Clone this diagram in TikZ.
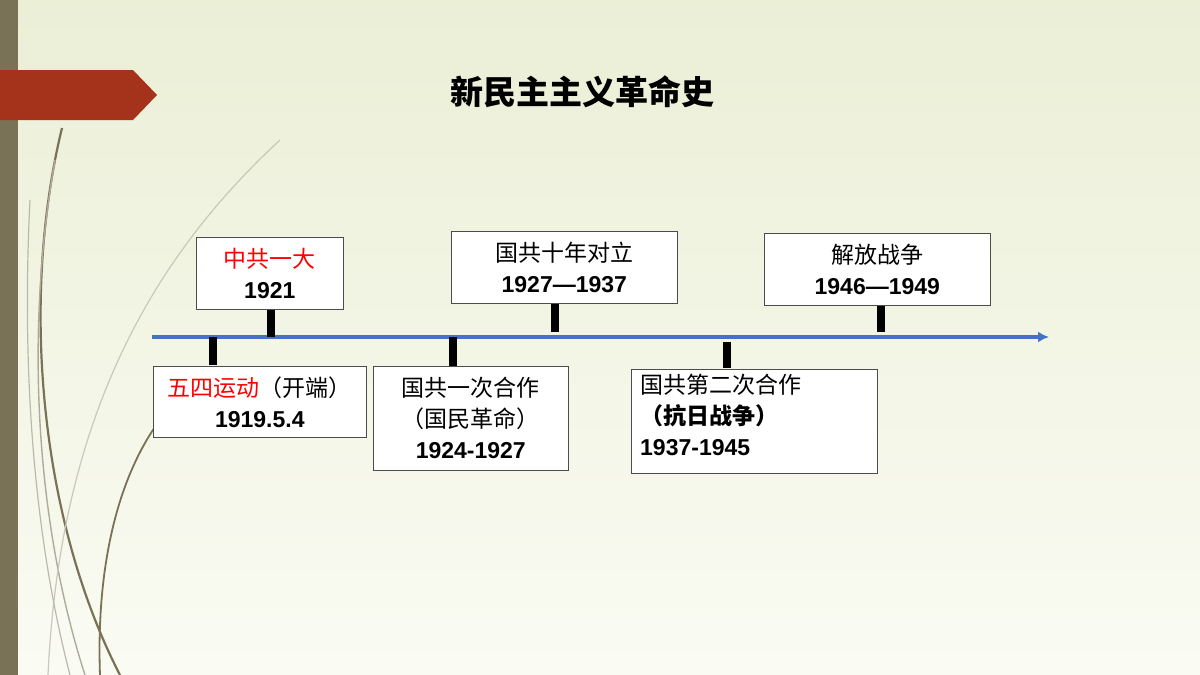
\documentclass[tikz,border=0pt]{standalone}
\usepackage{fontspec}
\setmainfont{Liberation Sans}
\newfontfamily\cjk{Noto Sans CJK SC}
\usetikzlibrary{arrows.meta}
\definecolor{bgtop}{HTML}{EBEFD6}
\definecolor{bgbot}{HTML}{FAFBF3}
\definecolor{olive}{HTML}{7A7257}
\definecolor{tabred}{HTML}{A5321A}
\definecolor{axisblue}{HTML}{4472C4}
\tikzset{
  evbox/.style={draw=black!70, fill=white, line width=0.6pt, inner sep=0pt, anchor=north west},
  evtxt/.style={font=\fontsize{23}{31}\selectfont},
}
\newcommand{\yr}[1]{{\bfseries #1}}
\newcommand{\zh}[1]{{\cjk #1}}
\begin{document}
\begin{tikzpicture}[x=1pt,y=-1pt]
  % background
  \shade[top color=bgtop, bottom color=bgbot] (0,0) rectangle (1200,675);
  \useasboundingbox (0,0) rectangle (1200,675);
  \fill[olive] (0,0) rectangle (18,675);
  \fill[tabred] (0,70) -- (133,70) -- (157,95) -- (133,120) -- (0,120) -- cycle;
  % curves
  \draw[olive, line width=2.2pt] (62,128) .. controls (20,300) and (40,520) .. (120,675);
  \draw[olive!60, line width=1.4pt] (55,160) .. controls (25,330) and (35,520) .. (85,675);
  \draw[olive!40, line width=1.2pt] (280,140) .. controls (150,260) and (60,420) .. (48,675);
  \draw[olive, line width=1.8pt] (200,380) .. controls (130,430) and (95,540) .. (100,675);
  \draw[olive!50, line width=1.2pt] (30,200) .. controls (20,400) and (40,560) .. (70,675);
  % title
  \node (title) at (582,92) {\cjk\bfseries\fontsize{33}{36}\selectfont 新民主主义革命史};
  % axis
  \coordinate (axs) at (152,337);
  \coordinate (axe) at (1049,337);
  \draw[axisblue, line width=3.5pt, -{Latex[length=11pt,width=11pt]}] (axs) -- (axe);
  % ticks
  \foreach \X/\A/\B in {271/310/337, 555/304/332, 881/305/332, 213/337/365, 453/337/366, 727/342/368}
    \fill (\X-4,\A) rectangle (\X+4,\B);
  % boxes above
  \node[evbox, minimum width=147pt, minimum height=72pt] (yida) at (196,237) {};
  \node[evtxt, align=center] (yidat) at (yida.center) {\zh{\textcolor{red}{中共一大}}\\\yr{1921}};
  \node[evbox, minimum width=226pt, minimum height=72pt] (shinian) at (451,231) {};
  \node[evtxt, align=center] (shiniant) at (shinian.center) {\zh{国共十年对立}\\\yr{1927—1937}};
  \node[evbox, minimum width=226pt, minimum height=72pt] (jiefang) at (764,233) {};
  \node[evtxt, align=center] (jiefangt) at (jiefang.center) {\zh{解放战争}\\\yr{1946—1949}};
  % boxes below
  \node[evbox, minimum width=213pt, minimum height=71pt] (wusi) at (153,366) {};
  \node[evtxt, align=center] (wusit) at (wusi.center) {\zh{\textcolor{red}{五四运动}（开端）}\\\yr{1919.5.4}};
  \node[evbox, minimum width=195pt, minimum height=104pt] (yici) at (373,366) {};
  \node[evtxt, align=center] (yicit) at (yici.center) {\zh{国共一次合作}\\\zh{（国民革命）}\\\yr{1924-1927}};
  \node[evbox, minimum width=246pt, minimum height=104pt] (erci) at (631,369) {};
  \node[evtxt, align=left, anchor=north west, inner sep=0pt] (ercit) at (640,374) {\zh{国共第二次合作}\\\zh{\bfseries（抗日战争）}\\\yr{1937-1945}};
\end{tikzpicture}
\end{document}
